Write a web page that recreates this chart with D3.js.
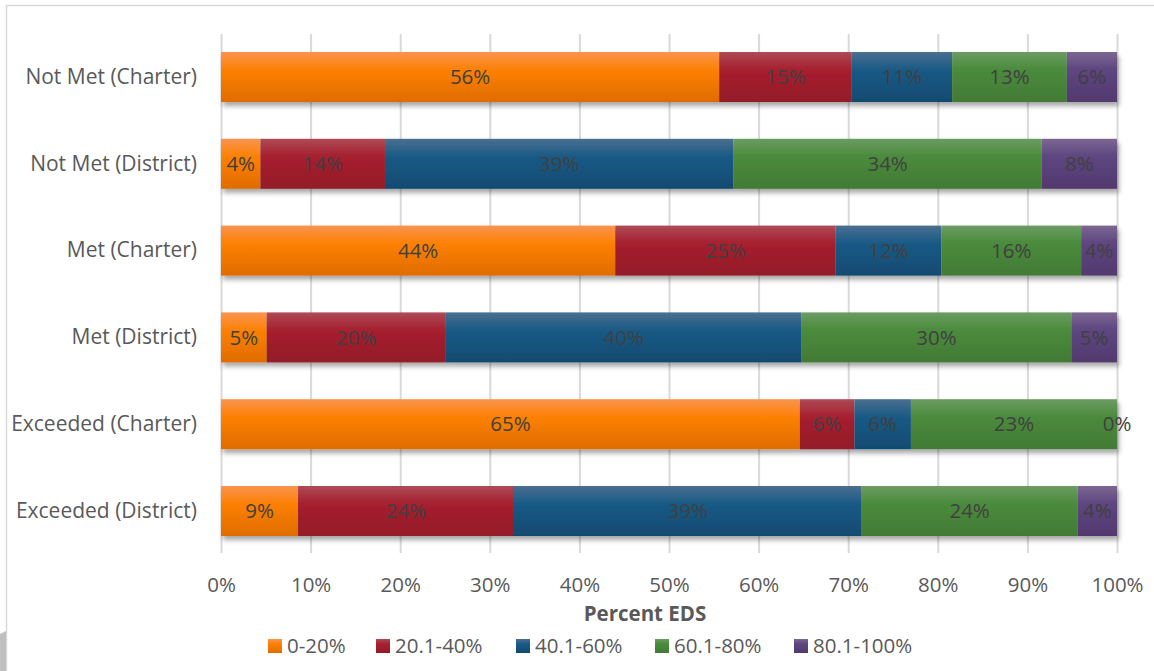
<!DOCTYPE html>
<html>
<head>
<meta charset="utf-8">
<script src="https://cdn.jsdelivr.net/npm/d3@7"></script>
<style>
  html, body { margin: 0; padding: 0; background: #fff; }
  svg { display: block; font-family: "Open Sans", sans-serif; }
</style>
</head>
<body>
<svg id="chart" width="1154" height="671"></svg>
<script>
// ---- Data ----
const categories = ["Not Met (Charter)", "Not Met (District)", "Met (Charter)", "Met (District)", "Exceeded (Charter)", "Exceeded (District)"];
const seriesNames = ["0-20%", "20.1-40%", "40.1-60%", "60.1-80%", "80.1-100%"];
const s0_20   = [55.6, 4.4, 44.0, 5.1, 64.6, 8.6];
const s20_40  = [14.8, 13.9, 24.6, 20.0, 6.1, 24.1];
const s40_60  = [11.2, 38.9, 11.8, 39.7, 6.3, 38.8];
const s60_80  = [12.8, 34.4, 15.6, 30.1, 23.0, 24.1];
const s80_100 = [5.6, 8.4, 4.0, 5.1, 0.0, 4.4];
const xTicks = [0, 10, 20, 30, 40, 50, 60, 70, 80, 90, 100];
const xTitle = "Percent EDS";

const seriesValues = [s0_20, s20_40, s40_60, s60_80, s80_100];
const table = categories.map((c, i) => {
  const row = { category: c };
  seriesNames.forEach((s, j) => row[s] = seriesValues[j][i]);
  return row;
});

// ---- Styles ----
const gradStops = [
  ["#F9944F", "#FD8106", "#E06C00"],
  ["#AD4B56", "#A6202F", "#941A28"],
  ["#4A6F8F", "#1A5A86", "#114A70"],
  ["#6B9C63", "#4B8B3C", "#427A35"],
  ["#7C6791", "#5E4681", "#51396E"]
];

const svg = d3.select("#chart");
const defs = svg.append("defs");
gradStops.forEach((st, i) => {
  const g = defs.append("linearGradient").attr("id", "grad" + i)
    .attr("x1", 0).attr("y1", 0).attr("x2", 0).attr("y2", 1);
  g.append("stop").attr("offset", "0%").attr("stop-color", st[0]);
  g.append("stop").attr("offset", "35%").attr("stop-color", st[1]);
  g.append("stop").attr("offset", "100%").attr("stop-color", st[2]);
});
const f = defs.append("filter").attr("id", "shadow")
  .attr("x", "-5%").attr("y", "-20%").attr("width", "115%").attr("height", "160%");
f.append("feDropShadow").attr("dx", 2).attr("dy", 4).attr("stdDeviation", 2.5)
  .attr("flood-color", "#000").attr("flood-opacity", 0.35);

// chart frame
svg.append("line").attr("x1", 6).attr("y1", 5.5).attr("x2", 1154).attr("y2", 5.5)
  .attr("stroke", "#D9D9D9").attr("stroke-width", 1.5);
svg.append("line").attr("x1", 6.5).attr("y1", 5).attr("x2", 6.5).attr("y2", 671)
  .attr("stroke", "#D9D9D9").attr("stroke-width", 1.5);
svg.append("path").attr("d", "M0,634 L4,632 L6,631 L6,671 L0,671 Z").attr("fill", "#BFBFBF");

// ---- Scales ----
const x = d3.scaleLinear().domain([0, 100]).range([221, 1117]);
const y = d3.scaleBand().domain(categories).range([33.6, 554.4])
  .paddingInner(0.424).paddingOuter(0.212);

// gridlines
const grid = svg.append("g").attr("transform", "translate(0,553)")
  .call(d3.axisBottom(x).tickValues(xTicks).tickSize(-519).tickFormat(""));
grid.select(".domain").remove();
grid.selectAll(".tick line").attr("stroke", "#D9D9D9").attr("stroke-width", 2);

// x axis labels
const xa = svg.append("g").attr("transform", "translate(0,554)")
  .call(d3.axisBottom(x).tickValues(xTicks).tickSize(0).tickPadding(23).tickFormat(d => d + "%"));
xa.select(".domain").remove();
xa.selectAll("text").attr("font-family", "Open Sans").attr("font-size", 20.5).attr("fill", "#595959");

// y axis labels
const ya = svg.append("g").attr("transform", "translate(221,0)")
  .call(d3.axisLeft(y).tickSize(0).tickPadding(24));
ya.select(".domain").remove();
ya.selectAll("text").attr("font-family", "Open Sans").attr("font-size", 21).attr("fill", "#595959");

// axis title
svg.append("text").attr("x", 645).attr("y", 621).attr("text-anchor", "middle")
  .attr("font-size", 20.5).attr("font-weight", "bold").attr("fill", "#595959").text(xTitle);

// ---- Bars ----
const stacked = d3.stack().keys(seriesNames)(table);
const rows = svg.append("g").selectAll("g.row").data(categories).join("g")
  .attr("class", "row").attr("filter", "url(#shadow)");
rows.each(function(cat, ci) {
  d3.select(this).selectAll("rect").data(stacked.map((layer, si) => ({ si, d: layer[ci] })))
    .join("rect")
    .attr("x", o => x(o.d[0]))
    .attr("y", y(cat))
    .attr("width", o => Math.max(0, x(o.d[1]) - x(o.d[0])))
    .attr("height", y.bandwidth())
    .attr("fill", o => `url(#grad${o.si})`);
});

// data labels
const labels = svg.append("g");
stacked.forEach((layer, si) => {
  labels.selectAll(null).data(layer).join("text")
    .attr("x", d => (x(d[0]) + x(d[1])) / 2)
    .attr("y", (d, i) => y(categories[i]) + y.bandwidth() / 2)
    .attr("dy", "0.35em")
    .attr("text-anchor", "middle")
    .attr("font-size", 20.5)
    .attr("fill", "#404040")
    .text(d => Math.round(d[1] - d[0]) + "%");
});

// ---- Legend ----
const legendX = [268, 376, 516, 655, 794];
const leg = svg.append("g");
seriesNames.forEach((s, i) => {
  leg.append("rect").attr("x", legendX[i]).attr("y", 639).attr("width", 14).attr("height", 14)
    .attr("fill", `url(#grad${i})`);
  leg.append("text").attr("x", legendX[i] + 19).attr("y", 653)
    .attr("font-size", 20.5).attr("fill", "#595959").text(s);
});
</script>
</body>
</html>
